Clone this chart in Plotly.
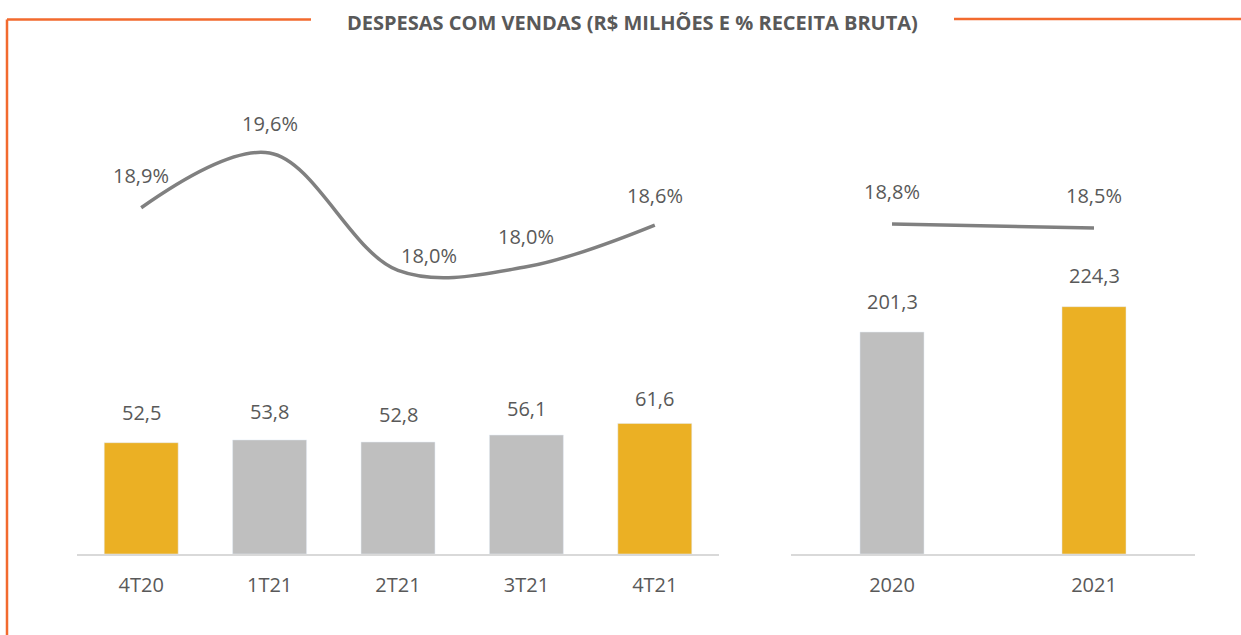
import plotly.graph_objects as go

# ---- data ----
quarters = ["4T20", "1T21", "2T21", "3T21", "4T21"]
quarter_expenses = [52.5, 53.8, 52.8, 56.1, 61.6]          # R$ milhões
quarter_pct = [18.86, 19.62, 17.99, 18.04, 18.62]           # % receita bruta
years = ["2020", "2021"]
year_expenses = [201.3, 224.3]
year_pct = [18.8, 18.5]
title_text = "DESPESAS COM VENDAS (R$ MILHÕES E % RECEITA BRUTA)"

# ---- style ----
GOLD = "#EBB024"
GRAY = "#BFBFBF"
LINE = "#808080"
TXT = "#595959"
ORANGE = "#F26A2E"
quarter_colors = [GOLD, GRAY, GRAY, GRAY, GOLD]
year_colors = [GRAY, GOLD]
FONT = "Open Sans"
W, H = 1241, 635


def fmt(v, pct=False):
    s = f"{v:.1f}".replace(".", ",")
    return s + ("%" if pct else "")


fig = go.Figure()
fig.add_trace(go.Bar(x=quarters, y=quarter_expenses, marker_color=quarter_colors,
                     width=0.576, xaxis="x", yaxis="y", hoverinfo="skip"))
fig.add_trace(go.Scatter(x=quarters, y=quarter_pct, mode="lines",
                         line=dict(color=LINE, width=3.5, shape="spline", smoothing=1.0),
                         xaxis="x", yaxis="y2", hoverinfo="skip"))
fig.add_trace(go.Bar(x=years, y=year_expenses, marker_color=year_colors,
                     width=0.317, xaxis="x2", yaxis="y3", hoverinfo="skip"))
fig.add_trace(go.Scatter(x=years, y=year_pct, mode="lines",
                         line=dict(color=LINE, width=3.5),
                         xaxis="x2", yaxis="y4", hoverinfo="skip"))

lab_font = dict(size=20, color=TXT, family=FONT)
ann = []
# category axes: annotations positioned by category index
bar_yshift = [30, 28, 28, 27, 25]
for i, (v, ys) in enumerate(zip(quarter_expenses, bar_yshift)):
    ann.append(dict(x=i, y=v, xref="x", yref="y", text=fmt(v), showarrow=False,
                    yanchor="middle", yshift=ys, font=lab_font))
pct_xshift = [0, 0, 31, 0, 0]
pct_yshift = [32, 30, 15, 30, 30]
for i, (v, xs, ys) in enumerate(zip(quarter_pct, pct_xshift, pct_yshift)):
    ann.append(dict(x=i, y=v, xref="x", yref="y2", text=fmt(v, True), showarrow=False,
                    yanchor="middle", yshift=ys, xshift=xs, font=lab_font))
for i, v in enumerate(year_expenses):
    ann.append(dict(x=i, y=v, xref="x2", yref="y3", text=fmt(v), showarrow=False,
                    yanchor="middle", yshift=31, font=lab_font))
for i, v in enumerate(year_pct):
    ann.append(dict(x=i, y=v, xref="x2", yref="y4", text=fmt(v, True), showarrow=False,
                    yanchor="middle", yshift=33, font=lab_font))
ann.append(dict(x=632 / W, y=1 - 22 / H, xref="paper", yref="paper", text=f"<b>{title_text}</b>",
                showarrow=False, xanchor="center", yanchor="middle",
                font=dict(size=20, color=TXT, family=FONT)))

ydom = [1 - 554 / H, 1 - 60 / H]
xax = dict(type="category", showgrid=False, zeroline=False, showline=True, linecolor="#D9D9D9",
           linewidth=1.5, ticks="", tickfont=dict(size=20, color=TXT, family=FONT),
           ticklabelstandoff=12, fixedrange=True, automargin=False)
yax = dict(visible=False, showgrid=False, zeroline=False, fixedrange=True, automargin=False)

fig.update_layout(
    width=W, height=H, margin=dict(l=0, r=0, t=0, b=0, pad=0, autoexpand=False),
    paper_bgcolor="white", plot_bgcolor="white", showlegend=False,
    xaxis=dict(xax, domain=[77 / W, 719 / W], anchor="y", range=[-0.5, len(quarters) - 0.5],
               categoryorder="array", categoryarray=quarters),
    yaxis=dict(yax, domain=ydom, range=[0, 233], anchor="x"),
    yaxis2=dict(yax, overlaying="y", range=[14.051, 20.912], anchor="x"),
    xaxis2=dict(xax, domain=[791 / W, 1195 / W], anchor="y3", range=[-0.5, len(years) - 0.5],
                categoryorder="array", categoryarray=years),
    yaxis3=dict(yax, domain=ydom, range=[0, 448], anchor="x2"),
    yaxis4=dict(yax, overlaying="y3", range=[-5.95, 31.1], anchor="x2"),
    annotations=ann,
    shapes=[
        dict(type="line", xref="paper", yref="paper", x0=7 / W, x1=311 / W, y0=1 - 19.5 / H, y1=1 - 19.5 / H,
             line=dict(color=ORANGE, width=2.5)),
        dict(type="line", xref="paper", yref="paper", x0=7 / W, x1=7 / W, y0=1 - 19.5 / H, y1=0,
             line=dict(color=ORANGE, width=2.5)),
        dict(type="line", xref="paper", yref="paper", x0=954 / W, x1=1, y0=1 - 19 / H, y1=1 - 19 / H,
             line=dict(color=ORANGE, width=2.5)),
    ],
)

fig.write_html("out.html", config={"displayModeBar": False},
               post_script="document.body.style.margin='0';")
